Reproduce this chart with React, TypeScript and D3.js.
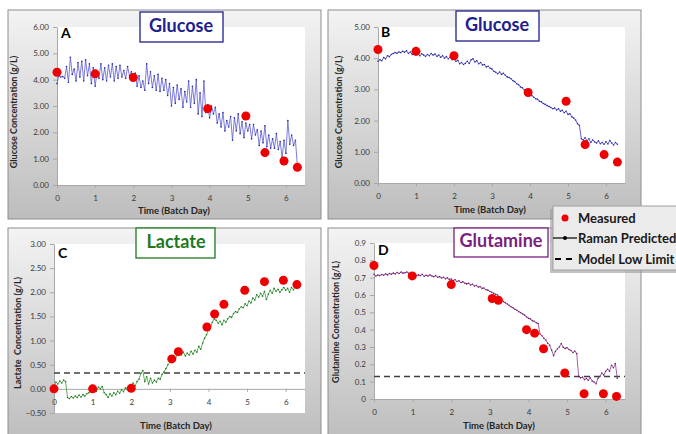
import * as d3 from "d3";
import { useEffect, useRef } from "react";

const W = 676;
const H = 434;
const FONT = "Lato, 'Open Sans', sans-serif";

// Raman predictions are sampled every 0.05 batch day, starting at day 0
const RAMAN_STEP = 0.05;

const glucoseRamanA = [
  3.85, 4.15, 4.1, 4.12, 4.05, 4.5, 3.9, 4.85, 4.2, 4.4,
  3.95, 4.65, 4.1, 4.7, 3.95, 4.75, 4.15, 4.6, 3.85, 4.45,
  3.75, 4.3, 4.05, 4.6, 4.0, 4.45, 3.95, 4.55, 4.1, 4.6,
  3.95, 4.5, 4.05, 4.55, 4.1, 4.35, 4.05, 4.5, 4.15, 4.3,
  4.0, 4.25, 3.75, 4.15, 3.7, 3.95, 3.6, 4.6, 3.85, 4.3,
  3.7, 4.15, 3.6, 4.2, 3.55, 4.05, 3.6, 4.0, 3.4, 3.85,
  3.0, 3.7, 3.1, 3.8, 3.25, 3.65, 2.95, 3.55, 3.15, 3.95,
  2.95, 3.75, 3.1, 4.0, 2.7, 3.5, 2.6, 3.95, 2.75, 3.05,
  2.55, 3.0, 2.7, 2.95, 2.35, 2.7, 2.2, 2.75, 2.05, 2.45,
  2.2, 2.6, 1.7, 2.55, 2.05, 2.7, 1.95, 2.4, 1.8, 2.35,
  2.05, 2.3, 1.75, 2.3, 1.9, 2.1, 1.5, 2.05, 1.6, 2.25,
  1.45, 1.9, 1.4, 1.75, 1.4, 1.95, 1.35, 1.65, 1.05, 1.7,
  1.2, 2.45, 1.55, 1.9, 1.5, 1.7, 0.72,
];

const glucoseRamanB = [
  3.9, 3.95, 3.92, 4.02, 3.98, 4.08, 4.05, 4.12, 4.15, 4.18,
  4.16, 4.2, 4.18, 4.22, 4.19, 4.24, 4.15, 4.2, 4.12, 4.18,
  4.1, 4.16, 4.08, 4.14, 4.1, 4.06, 4.12, 4.08, 4.15, 4.1,
  4.13, 4.06, 4.1, 4.03, 4.08, 4.0, 4.05, 3.98, 4.04, 3.95,
  3.97, 3.9, 3.93, 3.82, 3.86, 3.8, 3.84, 3.9, 3.83, 3.95,
  3.98, 3.88, 3.92, 3.82, 3.86, 3.78, 3.8, 3.72, 3.74, 3.68,
  3.65, 3.58, 3.55, 3.5, 3.56, 3.48, 3.52, 3.45, 3.4, 3.38,
  3.34, 3.28, 3.25, 3.18, 3.15, 3.08, 3.05, 2.98, 2.95, 2.88,
  2.85, 2.8, 2.75, 2.7, 2.68, 2.62, 2.6, 2.55, 2.52, 2.48,
  2.45, 2.42, 2.38, 2.4, 2.34, 2.38, 2.3, 2.33, 2.25, 2.3,
  2.2, 2.22, 2.12, 2.08, 2.02, 1.9, 1.85, 1.42, 1.38, 1.45,
  1.35, 1.42, 1.3, 1.38, 1.32, 1.28, 1.35, 1.26, 1.3, 1.24,
  1.32, 1.25, 1.36, 1.28, 1.22, 1.3, 1.24,
];

const lactateRaman = [
  0.05, 0.14, 0.1, 0.16, 0.12, 0.18, 0.15, -0.18, -0.2, -0.16,
  -0.19, -0.15, -0.18, -0.13, -0.17, -0.12, -0.15, -0.1, -0.08, -0.05,
  -0.02, 0.02, -0.05, 0.04, 0.0, 0.05, -0.08, -0.12, -0.18, -0.1,
  -0.15, -0.08, -0.12, -0.05, -0.09, -0.02, -0.06, 0.02, -0.02, 0.05,
  0.08, 0.12, 0.06, 0.15, 0.2, 0.32, 0.38, 0.15, 0.25, 0.1,
  0.22, 0.12, 0.18, 0.14, 0.22, 0.2, 0.3, 0.35, 0.42, 0.5,
  0.55, 0.62, 0.68, 0.64, 0.72, 0.78, 0.7, 0.76, 0.68, 0.74,
  0.7, 0.78, 0.72, 0.8, 0.76, 0.88, 0.82, 0.95, 1.05, 1.12,
  1.22, 1.28, 1.38, 1.45, 1.42, 1.36, 1.4, 1.33, 1.42, 1.38,
  1.45, 1.5, 1.48, 1.56, 1.6, 1.58, 1.66, 1.7, 1.68, 1.76,
  1.72, 1.82, 1.78, 1.88, 1.84, 1.95, 1.9, 1.98, 1.92, 2.02,
  1.85, 1.96, 2.04, 1.98, 2.08, 2.02, 2.06, 2.0, 2.05, 2.1,
  2.04, 2.08, 2.0, 2.1, 2.05, 2.12, 2.08,
];

const glutamineRaman = [
  0.72, 0.71, 0.715, 0.712, 0.718, 0.714, 0.722, 0.716, 0.724, 0.72,
  0.726, 0.722, 0.73, 0.724, 0.732, 0.726, 0.728, 0.733, 0.725, 0.722,
  0.718, 0.722, 0.712, 0.716, 0.712, 0.719, 0.708, 0.714, 0.71, 0.716,
  0.71, 0.706, 0.712, 0.702, 0.706, 0.698, 0.702, 0.694, 0.699, 0.69,
  0.692, 0.684, 0.688, 0.678, 0.682, 0.672, 0.676, 0.668, 0.664, 0.668,
  0.658, 0.662, 0.652, 0.655, 0.646, 0.648, 0.638, 0.64, 0.63, 0.628,
  0.62, 0.616, 0.61, 0.604, 0.6, 0.578, 0.572, 0.562, 0.556, 0.548,
  0.54, 0.532, 0.526, 0.518, 0.512, 0.504, 0.498, 0.49, 0.484, 0.474,
  0.466, 0.462, 0.452, 0.448, 0.44, 0.436, 0.375, 0.365, 0.35, 0.34,
  0.322, 0.31, 0.282, 0.25, 0.275, 0.29, 0.3, 0.32, 0.298, 0.292,
  0.296, 0.286, 0.28, 0.268, 0.276, 0.262, 0.13, 0.122, 0.126, 0.112,
  0.118, 0.108, 0.122, 0.104, 0.098, 0.088, 0.12, 0.13, 0.15, 0.138,
  0.16, 0.172, 0.16, 0.195, 0.18, 0.205, 0.12,
];

// offline measurements
const glucoseDays = [0, 1.0, 2.0, 3.95, 4.95, 5.45, 5.95, 6.3];
const glucoseMeasured = [4.28, 4.22, 4.08, 2.9, 2.62, 1.23, 0.91, 0.67];
const lactateDays = [0, 1.0, 2.0, 3.05, 3.22, 3.96, 4.16, 4.4, 4.94, 5.45, 5.94, 6.29];
const lactateMeasured = [0, 0, 0.01, 0.62, 0.77, 1.28, 1.55, 1.75, 2.04, 2.22, 2.25, 2.16];
const glutamineDays = [0, 0.99, 2.0, 3.06, 3.22, 3.95, 4.16, 4.39, 4.94, 5.44, 5.94, 6.28];
const glutamineMeasured = [0.77, 0.71, 0.66, 0.58, 0.57, 0.4, 0.38, 0.29, 0.15, 0.03, 0.03, 0.015];

const lactateLowLimit = 0.33;
const glutamineLowLimit = 0.13;

const dayTicks = [0, 1, 2, 3, 4, 5, 6];
const glucoseTicksA = [0, 1, 2, 3, 4, 5, 6];
const glucoseTicksB = [0, 1, 2, 3, 4, 5];
const lactateTicks = [-0.5, 0, 0.5, 1, 1.5, 2, 2.5, 3];
const glutamineTicks = [0, 0.1, 0.2, 0.3, 0.4, 0.5, 0.6, 0.7, 0.8, 0.9];

const legendLabels = ["Measured", "Raman Predicted", "Model Low Limit"];

const fmt2 = d3.format(".2f");
const fmtGln = (d) => (d === 0 ? "0" : d3.format(".1f")(d));

function Panel(props) {
  const {
    box, plot, yDomain, yTicks, yFormat, yLabel, yLabelX, yLabelY, xLabelX, xLabelY,
    title, titleBox, titleX, titleY, titleColor, letter, letterX, letterY,
    lineColor, dotColor, raman, days, measured, limit,
  } = props;
  const xAxisRef = useRef(null);
  const yAxisRef = useRef(null);

  const x = d3.scaleLinear().domain([0, 6.5]).range([plot.left, plot.right]);
  const y = d3.scaleLinear().domain(yDomain).range([plot.bottom, plot.top]);

  useEffect(() => {
    const ya = d3.select(yAxisRef.current);
    ya.call(d3.axisLeft(y).tickValues(yTicks).tickFormat(yFormat).tickSize(4).tickPadding(4).tickSizeOuter(0));
    const xa = d3.select(xAxisRef.current);
    xa.call(d3.axisBottom(x).tickValues(dayTicks).tickFormat(d3.format("d")).tickSize(3).tickPadding(7).tickSizeOuter(0));
    [ya, xa].forEach((g) => {
      g.attr("font-family", FONT).attr("font-size", 8);
      g.select(".domain").attr("stroke", "#a8a8a8");
      g.selectAll(".tick line").attr("stroke", "#a8a8a8");
      g.selectAll(".tick text").attr("fill", "#3a3a3a");
    });
  }, []);

  const line = d3
    .line()
    .x((d, i) => x(i * RAMAN_STEP))
    .y((d) => y(d));

  return (
    <g>
      <rect x={box.x} y={box.y} width={box.w} height={box.h} fill="url(#panelGrad)" stroke="#8e8e8e" strokeWidth={1} />
      <rect x={plot.left} y={plot.top} width={plot.right - plot.left} height={plot.bottom - plot.top} fill="#ffffff" />
      <g ref={yAxisRef} transform={`translate(${plot.left},0)`} />
      <g ref={xAxisRef} transform={`translate(0,${y(0)})`} />
      {limit !== undefined && (
        <line x1={x(0)} x2={x(6.5)} y1={y(limit)} y2={y(limit)} stroke="#404040" strokeWidth={1.5} strokeDasharray="6,4" />
      )}
      <path d={line(raman)} fill="none" stroke={lineColor} strokeWidth={0.8} />
      {raman.map((d, i) => (
        <circle key={i} cx={x(i * RAMAN_STEP)} cy={y(d)} r={0.8} fill={dotColor} />
      ))}
      {measured.map((d, i) => (
        <circle key={"m" + i} cx={x(days[i])} cy={y(d)} r={4.5} fill="#ee0000" />
      ))}
      <text x={letterX} y={letterY} fontFamily={FONT} fontWeight="bold" fontSize={14} fill="#000">
        {letter}
      </text>
      <rect x={titleBox.x} y={titleBox.y} width={titleBox.w} height={titleBox.h} fill="#fff" stroke={titleColor} strokeWidth={1.3} />
      <text x={titleX} y={titleY} textAnchor="middle" fontFamily={FONT} fontWeight="bold" fontSize={18} fill={titleColor}>
        {title}
      </text>
      <text
        transform={`translate(${yLabelX},${yLabelY}) rotate(-90)`}
        textAnchor="middle"
        fontFamily={FONT}
        fontWeight="bold"
        fontSize={9}
        fill="#262626"
        style={{ whiteSpace: "pre" }}
      >
        {yLabel}
      </text>
      <text x={xLabelX} y={xLabelY} textAnchor="middle" fontFamily={FONT} fontWeight="bold" fontSize={9.5} fill="#262626">
        Time (Batch Day)
      </text>
    </g>
  );
}

function Legend() {
  const lx = 553;
  const ly = 206;
  const rows = [218, 238, 259];
  return (
    <g>
      <rect x={lx - 3} y={ly + 3} width={140} height={64} fill="#9a9a9a" opacity={0.6} />
      <rect x={lx} y={ly} width={140} height={64} fill="#ebebeb" stroke="#a0a0a0" strokeWidth={1} />
      <circle cx={565} cy={rows[0]} r={3.5} fill="#ee0000" />
      <line x1={553} x2={577} y1={rows[1]} y2={rows[1]} stroke="#000" strokeWidth={1.2} />
      <circle cx={565} cy={rows[1]} r={2} fill="#000" />
      <line x1={555} x2={577} y1={rows[2]} y2={rows[2]} stroke="#000" strokeWidth={1.8} strokeDasharray="6,5" />
      {legendLabels.map((t, i) => (
        <text key={t} x={578} y={rows[i] + 4.5} fontFamily={FONT} fontWeight="bold" fontSize={13} fill="#1a1a1a">
          {t}
        </text>
      ))}
    </g>
  );
}

export default function App() {
  return (
    <svg width={W} height={H} style={{ position: "absolute", left: 0, top: 0, background: "#fff" }}>
      <defs>
        <linearGradient id="panelGrad" x1="0" y1="0" x2="0" y2="1">
          <stop offset="0%" stopColor="#f3f3f3" />
          <stop offset="100%" stopColor="#bdbdbd" />
        </linearGradient>
      </defs>
      <Panel
        box={{ x: 8, y: 10, w: 313, h: 209 }}
        plot={{ left: 57, right: 305, top: 27, bottom: 185 }}
        yDomain={[0, 6]}
        yTicks={glucoseTicksA}
        yFormat={fmt2}
        yLabel="Glucose Concentration (g/L)"
        yLabelX={17}
        yLabelY={112}
        xLabelX={174}
        xLabelY={214}
        title="Glucose"
        titleBox={{ x: 140, y: 12, w: 83, h: 30 }}
        titleX={181}
        titleY={32}
        titleColor="#20208f"
        letter="A"
        letterX={61}
        letterY={38}
        lineColor="#5a5ad0"
        dotColor="#2a2aa0"
        raman={glucoseRamanA}
        days={glucoseDays}
        measured={glucoseMeasured}
      />
      <Panel
        box={{ x: 328, y: 10, w: 313, h: 209 }}
        plot={{ left: 378, right: 625, top: 27, bottom: 183 }}
        yDomain={[0, 5]}
        yTicks={glucoseTicksB}
        yFormat={fmt2}
        yLabel="Glucose Concentration (g/L)"
        yLabelX={342}
        yLabelY={112}
        xLabelX={490}
        xLabelY={213}
        title="Glucose"
        titleBox={{ x: 456, y: 11, w: 83, h: 30 }}
        titleX={497}
        titleY={31}
        titleColor="#20208f"
        letter="B"
        letterX={381}
        letterY={37}
        lineColor="#3c3cc0"
        dotColor="#2a2aa0"
        raman={glucoseRamanB}
        days={glucoseDays}
        measured={glucoseMeasured}
      />
      <Panel
        box={{ x: 8, y: 228, w: 313, h: 215 }}
        plot={{ left: 54, right: 305, top: 244, bottom: 413 }}
        yDomain={[-0.5, 3]}
        yTicks={lactateTicks}
        yFormat={fmt2}
        yLabel={"Lactate  Concentration (g/L)"}
        yLabelX={21}
        yLabelY={333}
        xLabelX={176}
        xLabelY={429}
        title="Lactate"
        titleBox={{ x: 136, y: 228, w: 79, h: 30 }}
        titleX={176}
        titleY={248}
        titleColor="#1e7a1e"
        letter="C"
        letterX={58}
        letterY={258}
        lineColor="#3a963a"
        dotColor="#1e7a1e"
        raman={lactateRaman}
        days={lactateDays}
        measured={lactateMeasured}
        limit={lactateLowLimit}
      />
      <Panel
        box={{ x: 328, y: 228, w: 313, h: 215 }}
        plot={{ left: 374, right: 625, top: 243, bottom: 399 }}
        yDomain={[0, 0.9]}
        yTicks={glutamineTicks}
        yFormat={fmtGln}
        yLabel="Glutamine Concentration (g/L)"
        yLabelX={339}
        yLabelY={322}
        xLabelX={499}
        xLabelY={429}
        title="Glutamine"
        titleBox={{ x: 454, y: 228, w: 94, h: 29 }}
        titleX={501}
        titleY={247}
        titleColor="#7a1f7f"
        letter="D"
        letterX={378}
        letterY={255}
        lineColor="#8e3a8e"
        dotColor="#6e1f6e"
        raman={glutamineRaman}
        days={glutamineDays}
        measured={glutamineMeasured}
        limit={glutamineLowLimit}
      />
      <Legend />
    </svg>
  );
}
